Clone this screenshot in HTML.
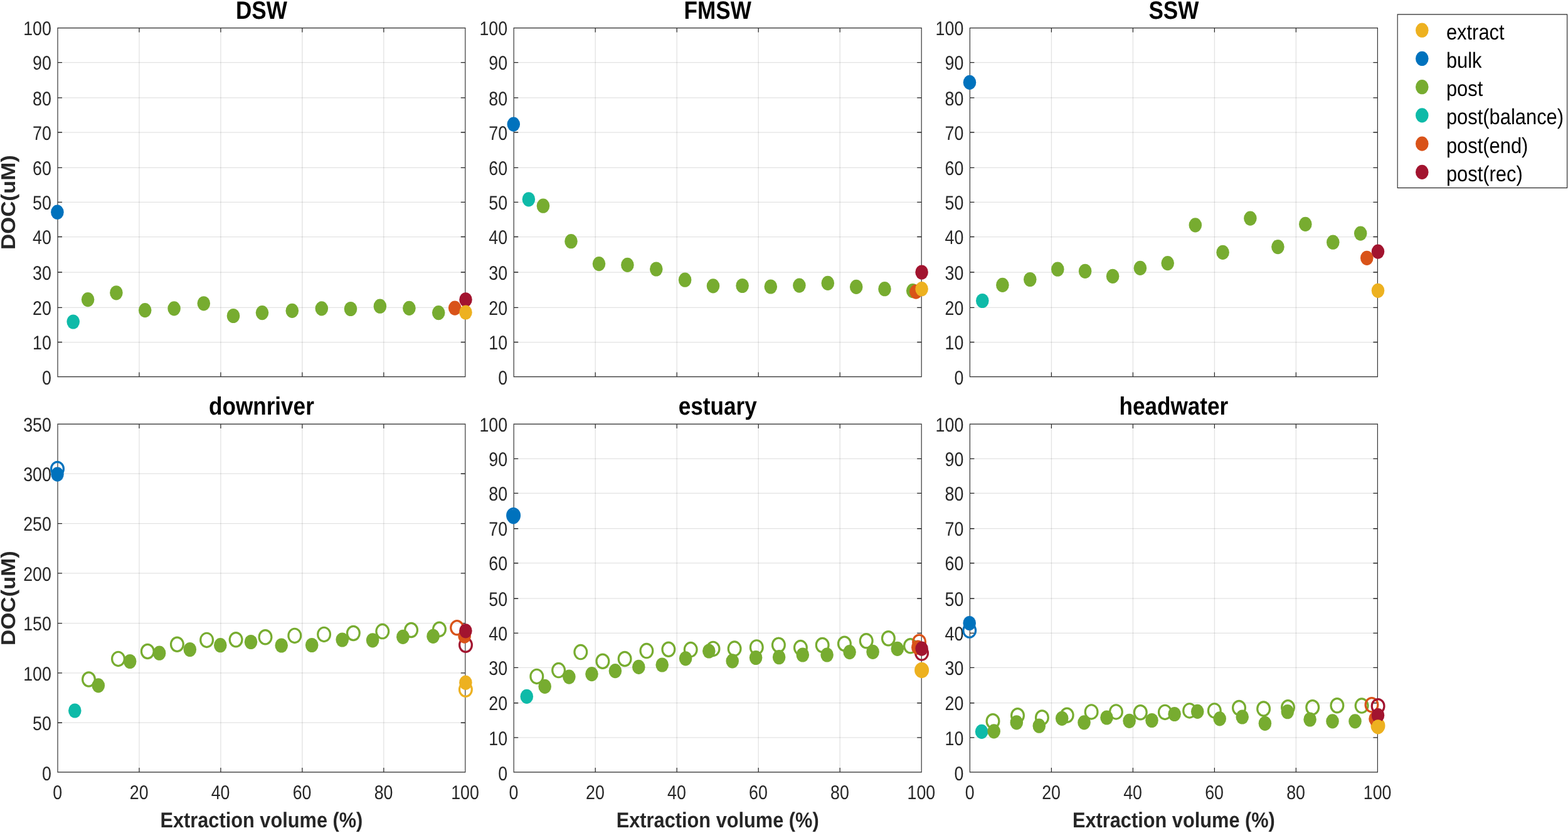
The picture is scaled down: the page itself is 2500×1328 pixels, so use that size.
<!DOCTYPE html><html><head><meta charset="utf-8"><title>DOC vs extraction volume</title>
<style>html,body{margin:0;padding:0;background:#fff;overflow:hidden}svg{display:block}text{font-family:"Liberation Sans",Arial,Helvetica,sans-serif;text-rendering:geometricPrecision}</style></head><body>
<svg width="2500" height="1328" viewBox="0 0 2818.49 1328" preserveAspectRatio="none">
<rect x="0" y="0" width="2818.49" height="1328" fill="#fff"/>
<g><path d="M250.24 44.6V600.6M396.75 44.6V600.6M543.27 44.6V600.6M689.79 44.6V600.6" stroke="#262626" stroke-opacity="0.13" stroke-width="1.5" fill="none"/><path d="M103.72 545.5H836.3M103.72 490.3H836.3M103.72 434H836.3M103.72 377.5H836.3M103.72 322.35H836.3M103.72 267.3H836.3M103.72 211H836.3M103.72 155.8H836.3M103.72 99.6H836.3" stroke="#262626" stroke-opacity="0.13" stroke-width="1.25" fill="none"/><path d="M250.24 600.6v-7.0M250.24 44.6v7.0M396.75 600.6v-7.0M396.75 44.6v7.0M543.27 600.6v-7.0M543.27 44.6v7.0M689.79 600.6v-7.0M689.79 44.6v7.0M103.72 545.5h7.89M836.3 545.5h-7.89M103.72 490.3h7.89M836.3 490.3h-7.89M103.72 434h7.89M836.3 434h-7.89M103.72 377.5h7.89M836.3 377.5h-7.89M103.72 322.35h7.89M836.3 322.35h-7.89M103.72 267.3h7.89M836.3 267.3h-7.89M103.72 211h7.89M836.3 211h-7.89M103.72 155.8h7.89M836.3 155.8h-7.89M103.72 99.6h7.89M836.3 99.6h-7.89" stroke="#262626" stroke-width="1.35" fill="none"/><rect x="103.72" y="44.6" width="732.58" height="556" stroke="#363636" stroke-width="1.35" fill="none"/><text transform="translate(92.33 613.49) scale(0.962 1)" font-size="31.4" fill="#262626" text-anchor="end">0</text><text transform="translate(92.33 557.29) scale(0.962 1)" font-size="31.4" fill="#262626" text-anchor="end">10</text><text transform="translate(92.33 502.09) scale(0.962 1)" font-size="31.4" fill="#262626" text-anchor="end">20</text><text transform="translate(92.33 445.79) scale(0.962 1)" font-size="31.4" fill="#262626" text-anchor="end">30</text><text transform="translate(92.33 389.29) scale(0.962 1)" font-size="31.4" fill="#262626" text-anchor="end">40</text><text transform="translate(92.33 334.14) scale(0.962 1)" font-size="31.4" fill="#262626" text-anchor="end">50</text><text transform="translate(92.33 279.09) scale(0.962 1)" font-size="31.4" fill="#262626" text-anchor="end">60</text><text transform="translate(92.33 222.79) scale(0.962 1)" font-size="31.4" fill="#262626" text-anchor="end">70</text><text transform="translate(92.33 167.59) scale(0.962 1)" font-size="31.4" fill="#262626" text-anchor="end">80</text><text transform="translate(92.33 111.39) scale(0.962 1)" font-size="31.4" fill="#262626" text-anchor="end">90</text><text transform="translate(92.33 56.39) scale(0.962 1)" font-size="31.4" fill="#262626" text-anchor="end">100</text><text transform="translate(470.01 29.6) scale(0.99 1)" font-size="40" font-weight="bold" fill="#000" text-anchor="middle">DSW</text><text transform="translate(26.83 322.6) scale(1.03 1) rotate(-90)" font-size="34.85" font-weight="bold" fill="#262626" text-anchor="middle">DOC(uM)</text><ellipse cx="103.04" cy="338.2" rx="11.6" ry="11.6" fill="#0072BD"/><ellipse cx="131.57" cy="513" rx="11.6" ry="11.6" fill="#0EBAA8"/><ellipse cx="157.95" cy="477.6" rx="11.6" ry="11.6" fill="#77AC30"/><ellipse cx="209.02" cy="466.8" rx="11.6" ry="11.6" fill="#77AC30"/><ellipse cx="260.65" cy="494.6" rx="11.6" ry="11.6" fill="#77AC30"/><ellipse cx="312.97" cy="491.9" rx="11.6" ry="11.6" fill="#77AC30"/><ellipse cx="366.18" cy="483.8" rx="11.6" ry="11.6" fill="#77AC30"/><ellipse cx="419.39" cy="503.5" rx="11.6" ry="11.6" fill="#77AC30"/><ellipse cx="471.25" cy="498.6" rx="11.6" ry="11.6" fill="#77AC30"/><ellipse cx="525.14" cy="495.4" rx="11.6" ry="11.6" fill="#77AC30"/><ellipse cx="578.13" cy="491.9" rx="11.6" ry="11.6" fill="#77AC30"/><ellipse cx="630.21" cy="492.5" rx="11.6" ry="11.6" fill="#77AC30"/><ellipse cx="683.09" cy="488.2" rx="11.6" ry="11.6" fill="#77AC30"/><ellipse cx="735.51" cy="491.4" rx="11.6" ry="11.6" fill="#77AC30"/><ellipse cx="788.28" cy="498.6" rx="11.6" ry="11.6" fill="#77AC30"/><ellipse cx="817.59" cy="491.1" rx="11.6" ry="11.6" fill="#D95319"/><ellipse cx="837.09" cy="477.8" rx="11.6" ry="11.6" fill="#A2142F"/><ellipse cx="837.09" cy="498" rx="11.6" ry="11.6" fill="#EDB120"/></g>
<g><path d="M1070.12 44.6V600.6M1216.69 44.6V600.6M1363.25 44.6V600.6M1509.81 44.6V600.6" stroke="#262626" stroke-opacity="0.13" stroke-width="1.5" fill="none"/><path d="M923.56 545.5H1656.37M923.56 490.3H1656.37M923.56 434H1656.37M923.56 377.5H1656.37M923.56 322.35H1656.37M923.56 267.3H1656.37M923.56 211H1656.37M923.56 155.8H1656.37M923.56 99.6H1656.37" stroke="#262626" stroke-opacity="0.13" stroke-width="1.25" fill="none"/><path d="M1070.12 600.6v-7.0M1070.12 44.6v7.0M1216.69 600.6v-7.0M1216.69 44.6v7.0M1363.25 600.6v-7.0M1363.25 44.6v7.0M1509.81 600.6v-7.0M1509.81 44.6v7.0M923.56 545.5h7.89M1656.37 545.5h-7.89M923.56 490.3h7.89M1656.37 490.3h-7.89M923.56 434h7.89M1656.37 434h-7.89M923.56 377.5h7.89M1656.37 377.5h-7.89M923.56 322.35h7.89M1656.37 322.35h-7.89M923.56 267.3h7.89M1656.37 267.3h-7.89M923.56 211h7.89M1656.37 211h-7.89M923.56 155.8h7.89M1656.37 155.8h-7.89M923.56 99.6h7.89M1656.37 99.6h-7.89" stroke="#262626" stroke-width="1.35" fill="none"/><rect x="923.56" y="44.6" width="732.81" height="556" stroke="#363636" stroke-width="1.35" fill="none"/><text transform="translate(912.18 613.49) scale(0.962 1)" font-size="31.4" fill="#262626" text-anchor="end">0</text><text transform="translate(912.18 557.29) scale(0.962 1)" font-size="31.4" fill="#262626" text-anchor="end">10</text><text transform="translate(912.18 502.09) scale(0.962 1)" font-size="31.4" fill="#262626" text-anchor="end">20</text><text transform="translate(912.18 445.79) scale(0.962 1)" font-size="31.4" fill="#262626" text-anchor="end">30</text><text transform="translate(912.18 389.29) scale(0.962 1)" font-size="31.4" fill="#262626" text-anchor="end">40</text><text transform="translate(912.18 334.14) scale(0.962 1)" font-size="31.4" fill="#262626" text-anchor="end">50</text><text transform="translate(912.18 279.09) scale(0.962 1)" font-size="31.4" fill="#262626" text-anchor="end">60</text><text transform="translate(912.18 222.79) scale(0.962 1)" font-size="31.4" fill="#262626" text-anchor="end">70</text><text transform="translate(912.18 167.59) scale(0.962 1)" font-size="31.4" fill="#262626" text-anchor="end">80</text><text transform="translate(912.18 111.39) scale(0.962 1)" font-size="31.4" fill="#262626" text-anchor="end">90</text><text transform="translate(912.18 56.39) scale(0.962 1)" font-size="31.4" fill="#262626" text-anchor="end">100</text><text transform="translate(1289.97 29.6) scale(0.99 1)" font-size="40" font-weight="bold" fill="#000" text-anchor="middle">FMSW</text><ellipse cx="923.11" cy="198.1" rx="11.6" ry="11.6" fill="#0072BD"/><ellipse cx="950.28" cy="317.8" rx="11.6" ry="11.6" fill="#0EBAA8"/><ellipse cx="976.32" cy="328.2" rx="11.6" ry="11.6" fill="#77AC30"/><ellipse cx="1026.49" cy="384.7" rx="11.6" ry="11.6" fill="#77AC30"/><ellipse cx="1076.66" cy="420.6" rx="11.6" ry="11.6" fill="#77AC30"/><ellipse cx="1127.85" cy="422.4" rx="11.6" ry="11.6" fill="#77AC30"/><ellipse cx="1179.59" cy="429" rx="11.6" ry="11.6" fill="#77AC30"/><ellipse cx="1231.23" cy="446.2" rx="11.6" ry="11.6" fill="#77AC30"/><ellipse cx="1281.85" cy="455.9" rx="11.6" ry="11.6" fill="#77AC30"/><ellipse cx="1334.39" cy="455.5" rx="11.6" ry="11.6" fill="#77AC30"/><ellipse cx="1385.34" cy="457" rx="11.6" ry="11.6" fill="#77AC30"/><ellipse cx="1436.75" cy="455.1" rx="11.6" ry="11.6" fill="#77AC30"/><ellipse cx="1487.94" cy="451.4" rx="11.6" ry="11.6" fill="#77AC30"/><ellipse cx="1539.12" cy="457.4" rx="11.6" ry="11.6" fill="#77AC30"/><ellipse cx="1590.19" cy="460.7" rx="11.6" ry="11.6" fill="#77AC30"/><ellipse cx="1640.59" cy="463.6" rx="11.6" ry="11.6" fill="#77AC30"/><ellipse cx="1646.45" cy="465.1" rx="11.6" ry="11.6" fill="#D95319"/><ellipse cx="1656.82" cy="434" rx="11.6" ry="11.6" fill="#A2142F"/><ellipse cx="1656.82" cy="460.7" rx="11.6" ry="11.6" fill="#EDB120"/></g>
<g><path d="M1889.97 44.6V600.6M2036.53 44.6V600.6M2183.09 44.6V600.6M2329.65 44.6V600.6" stroke="#262626" stroke-opacity="0.13" stroke-width="1.5" fill="none"/><path d="M1743.4 545.5H2476.21M1743.4 490.3H2476.21M1743.4 434H2476.21M1743.4 377.5H2476.21M1743.4 322.35H2476.21M1743.4 267.3H2476.21M1743.4 211H2476.21M1743.4 155.8H2476.21M1743.4 99.6H2476.21" stroke="#262626" stroke-opacity="0.13" stroke-width="1.25" fill="none"/><path d="M1889.97 600.6v-7.0M1889.97 44.6v7.0M2036.53 600.6v-7.0M2036.53 44.6v7.0M2183.09 600.6v-7.0M2183.09 44.6v7.0M2329.65 600.6v-7.0M2329.65 44.6v7.0M1743.4 545.5h7.89M2476.21 545.5h-7.89M1743.4 490.3h7.89M2476.21 490.3h-7.89M1743.4 434h7.89M2476.21 434h-7.89M1743.4 377.5h7.89M2476.21 377.5h-7.89M1743.4 322.35h7.89M2476.21 322.35h-7.89M1743.4 267.3h7.89M2476.21 267.3h-7.89M1743.4 211h7.89M2476.21 211h-7.89M1743.4 155.8h7.89M2476.21 155.8h-7.89M1743.4 99.6h7.89M2476.21 99.6h-7.89" stroke="#262626" stroke-width="1.35" fill="none"/><rect x="1743.4" y="44.6" width="732.81" height="556" stroke="#363636" stroke-width="1.35" fill="none"/><text transform="translate(1732.02 613.49) scale(0.962 1)" font-size="31.4" fill="#262626" text-anchor="end">0</text><text transform="translate(1732.02 557.29) scale(0.962 1)" font-size="31.4" fill="#262626" text-anchor="end">10</text><text transform="translate(1732.02 502.09) scale(0.962 1)" font-size="31.4" fill="#262626" text-anchor="end">20</text><text transform="translate(1732.02 445.79) scale(0.962 1)" font-size="31.4" fill="#262626" text-anchor="end">30</text><text transform="translate(1732.02 389.29) scale(0.962 1)" font-size="31.4" fill="#262626" text-anchor="end">40</text><text transform="translate(1732.02 334.14) scale(0.962 1)" font-size="31.4" fill="#262626" text-anchor="end">50</text><text transform="translate(1732.02 279.09) scale(0.962 1)" font-size="31.4" fill="#262626" text-anchor="end">60</text><text transform="translate(1732.02 222.79) scale(0.962 1)" font-size="31.4" fill="#262626" text-anchor="end">70</text><text transform="translate(1732.02 167.59) scale(0.962 1)" font-size="31.4" fill="#262626" text-anchor="end">80</text><text transform="translate(1732.02 111.39) scale(0.962 1)" font-size="31.4" fill="#262626" text-anchor="end">90</text><text transform="translate(1732.02 56.39) scale(0.962 1)" font-size="31.4" fill="#262626" text-anchor="end">100</text><text transform="translate(2109.81 29.6) scale(0.99 1)" font-size="40" font-weight="bold" fill="#000" text-anchor="middle">SSW</text><ellipse cx="1742.95" cy="131.4" rx="11.6" ry="11.6" fill="#0072BD"/><ellipse cx="1765.84" cy="479.5" rx="11.6" ry="11.6" fill="#0EBAA8"/><ellipse cx="1802.03" cy="454.4" rx="11.6" ry="11.6" fill="#77AC30"/><ellipse cx="1851.52" cy="445.5" rx="11.6" ry="11.6" fill="#77AC30"/><ellipse cx="1901.13" cy="429.2" rx="11.6" ry="11.6" fill="#77AC30"/><ellipse cx="1950.51" cy="432.3" rx="11.6" ry="11.6" fill="#77AC30"/><ellipse cx="2000.11" cy="440.4" rx="11.6" ry="11.6" fill="#77AC30"/><ellipse cx="2049.49" cy="427.4" rx="11.6" ry="11.6" fill="#77AC30"/><ellipse cx="2098.87" cy="419.6" rx="11.6" ry="11.6" fill="#77AC30"/><ellipse cx="2148.59" cy="358.9" rx="11.6" ry="11.6" fill="#77AC30"/><ellipse cx="2197.97" cy="402.4" rx="11.6" ry="11.6" fill="#77AC30"/><ellipse cx="2247.35" cy="348.1" rx="11.6" ry="11.6" fill="#77AC30"/><ellipse cx="2296.96" cy="393.6" rx="11.6" ry="11.6" fill="#77AC30"/><ellipse cx="2346.45" cy="357.4" rx="11.6" ry="11.6" fill="#77AC30"/><ellipse cx="2396.05" cy="386.2" rx="11.6" ry="11.6" fill="#77AC30"/><ellipse cx="2445.55" cy="372.1" rx="11.6" ry="11.6" fill="#77AC30"/><ellipse cx="2456.93" cy="411.3" rx="11.6" ry="11.6" fill="#D95319"/><ellipse cx="2476.89" cy="401.1" rx="11.6" ry="11.6" fill="#A2142F"/><ellipse cx="2476.89" cy="463.3" rx="11.6" ry="11.6" fill="#EDB120"/></g>
<g><path d="M250.24 676.1V1231M396.75 676.1V1231M543.27 676.1V1231M689.79 676.1V1231" stroke="#262626" stroke-opacity="0.13" stroke-width="1.5" fill="none"/><path d="M103.72 1152.2H836.3M103.72 1072.8H836.3M103.72 993.6H836.3M103.72 913.9H836.3M103.72 834.6H836.3M103.72 755.2H836.3" stroke="#262626" stroke-opacity="0.13" stroke-width="1.25" fill="none"/><path d="M250.24 1231v-7.0M250.24 676.1v7.0M396.75 1231v-7.0M396.75 676.1v7.0M543.27 1231v-7.0M543.27 676.1v7.0M689.79 1231v-7.0M689.79 676.1v7.0M103.72 1152.2h7.89M836.3 1152.2h-7.89M103.72 1072.8h7.89M836.3 1072.8h-7.89M103.72 993.6h7.89M836.3 993.6h-7.89M103.72 913.9h7.89M836.3 913.9h-7.89M103.72 834.6h7.89M836.3 834.6h-7.89M103.72 755.2h7.89M836.3 755.2h-7.89" stroke="#262626" stroke-width="1.35" fill="none"/><rect x="103.72" y="676.1" width="732.58" height="554.9" stroke="#363636" stroke-width="1.35" fill="none"/><text transform="translate(92.33 1243.99) scale(0.962 1)" font-size="31.4" fill="#262626" text-anchor="end">0</text><text transform="translate(92.33 1163.99) scale(0.962 1)" font-size="31.4" fill="#262626" text-anchor="end">50</text><text transform="translate(92.33 1084.59) scale(0.962 1)" font-size="31.4" fill="#262626" text-anchor="end">100</text><text transform="translate(92.33 1005.39) scale(0.962 1)" font-size="31.4" fill="#262626" text-anchor="end">150</text><text transform="translate(92.33 925.69) scale(0.962 1)" font-size="31.4" fill="#262626" text-anchor="end">200</text><text transform="translate(92.33 846.39) scale(0.962 1)" font-size="31.4" fill="#262626" text-anchor="end">250</text><text transform="translate(92.33 766.99) scale(0.962 1)" font-size="31.4" fill="#262626" text-anchor="end">300</text><text transform="translate(92.33 687.89) scale(0.962 1)" font-size="31.4" fill="#262626" text-anchor="end">350</text><text transform="translate(103.38 1273.9) scale(0.962 1)" font-size="31.4" fill="#262626" text-anchor="middle">0</text><text transform="translate(249.9 1273.9) scale(0.962 1)" font-size="31.4" fill="#262626" text-anchor="middle">20</text><text transform="translate(396.41 1273.9) scale(0.962 1)" font-size="31.4" fill="#262626" text-anchor="middle">40</text><text transform="translate(542.93 1273.9) scale(0.962 1)" font-size="31.4" fill="#262626" text-anchor="middle">60</text><text transform="translate(689.45 1273.9) scale(0.962 1)" font-size="31.4" fill="#262626" text-anchor="middle">80</text><text transform="translate(835.96 1273.9) scale(0.962 1)" font-size="31.4" fill="#262626" text-anchor="middle">100</text><text transform="translate(470.01 1319.2) scale(1.014 1)" font-size="34.2" font-weight="bold" fill="#262626" text-anchor="middle">Extraction volume (%)</text><text transform="translate(470.01 661.3) scale(0.99 1)" font-size="40" font-weight="bold" fill="#000" text-anchor="middle">downriver</text><text transform="translate(26.83 953.55) scale(1.03 1) rotate(-90)" font-size="34.85" font-weight="bold" fill="#262626" text-anchor="middle">DOC(uM)</text><ellipse cx="103.16" cy="747.5" rx="11.15" ry="11.15" fill="none" stroke="#0072BD" stroke-width="3.2" vector-effect="non-scaling-stroke"/><ellipse cx="159.53" cy="1083" rx="11.15" ry="11.15" fill="none" stroke="#77AC30" stroke-width="3.2" vector-effect="non-scaling-stroke"/><ellipse cx="212.51" cy="1050.4" rx="11.15" ry="11.15" fill="none" stroke="#77AC30" stroke-width="3.2" vector-effect="non-scaling-stroke"/><ellipse cx="265.28" cy="1038.5" rx="11.15" ry="11.15" fill="none" stroke="#77AC30" stroke-width="3.2" vector-effect="non-scaling-stroke"/><ellipse cx="318.38" cy="1027.2" rx="11.15" ry="11.15" fill="none" stroke="#77AC30" stroke-width="3.2" vector-effect="non-scaling-stroke"/><ellipse cx="371.59" cy="1020.4" rx="11.15" ry="11.15" fill="none" stroke="#77AC30" stroke-width="3.2" vector-effect="non-scaling-stroke"/><ellipse cx="424.01" cy="1019.8" rx="11.15" ry="11.15" fill="none" stroke="#77AC30" stroke-width="3.2" vector-effect="non-scaling-stroke"/><ellipse cx="476.89" cy="1015.7" rx="11.15" ry="11.15" fill="none" stroke="#77AC30" stroke-width="3.2" vector-effect="non-scaling-stroke"/><ellipse cx="529.65" cy="1013.4" rx="11.15" ry="11.15" fill="none" stroke="#77AC30" stroke-width="3.2" vector-effect="non-scaling-stroke"/><ellipse cx="582.41" cy="1011.4" rx="11.15" ry="11.15" fill="none" stroke="#77AC30" stroke-width="3.2" vector-effect="non-scaling-stroke"/><ellipse cx="635.17" cy="1009.5" rx="11.15" ry="11.15" fill="none" stroke="#77AC30" stroke-width="3.2" vector-effect="non-scaling-stroke"/><ellipse cx="687.49" cy="1006.6" rx="11.15" ry="11.15" fill="none" stroke="#77AC30" stroke-width="3.2" vector-effect="non-scaling-stroke"/><ellipse cx="739.12" cy="1004.5" rx="11.15" ry="11.15" fill="none" stroke="#77AC30" stroke-width="3.2" vector-effect="non-scaling-stroke"/><ellipse cx="789.74" cy="1003.3" rx="11.15" ry="11.15" fill="none" stroke="#77AC30" stroke-width="3.2" vector-effect="non-scaling-stroke"/><ellipse cx="821.42" cy="1000.7" rx="11.15" ry="11.15" fill="none" stroke="#D95319" stroke-width="3.2" vector-effect="non-scaling-stroke"/><ellipse cx="837.09" cy="1028.2" rx="11.15" ry="11.15" fill="none" stroke="#A2142F" stroke-width="3.2" vector-effect="non-scaling-stroke"/><ellipse cx="836.98" cy="1099.2" rx="11.15" ry="11.15" fill="none" stroke="#EDB120" stroke-width="3.2" vector-effect="non-scaling-stroke"/><ellipse cx="103.16" cy="756.1" rx="11.6" ry="11.6" fill="#0072BD"/><ellipse cx="134.5" cy="1133" rx="11.6" ry="11.6" fill="#0EBAA8"/><ellipse cx="176.78" cy="1092.9" rx="11.6" ry="11.6" fill="#77AC30"/><ellipse cx="233.6" cy="1054.5" rx="11.6" ry="11.6" fill="#77AC30"/><ellipse cx="286.47" cy="1041.2" rx="11.6" ry="11.6" fill="#77AC30"/><ellipse cx="341.38" cy="1035.5" rx="11.6" ry="11.6" fill="#77AC30"/><ellipse cx="396.05" cy="1028.7" rx="11.6" ry="11.6" fill="#77AC30"/><ellipse cx="450.96" cy="1023.5" rx="11.6" ry="11.6" fill="#77AC30"/><ellipse cx="505.86" cy="1029" rx="11.6" ry="11.6" fill="#77AC30"/><ellipse cx="560.54" cy="1028.5" rx="11.6" ry="11.6" fill="#77AC30"/><ellipse cx="615.22" cy="1020" rx="11.6" ry="11.6" fill="#77AC30"/><ellipse cx="669.79" cy="1020.8" rx="11.6" ry="11.6" fill="#77AC30"/><ellipse cx="724.24" cy="1015.3" rx="11.6" ry="11.6" fill="#77AC30"/><ellipse cx="778.58" cy="1014.3" rx="11.6" ry="11.6" fill="#77AC30"/><ellipse cx="834.95" cy="1014.1" rx="11.6" ry="11.6" fill="#D95319"/><ellipse cx="836.98" cy="1005.8" rx="11.6" ry="11.6" fill="#A2142F"/><ellipse cx="836.98" cy="1088.3" rx="11.6" ry="11.6" fill="#EDB120"/></g>
<g><path d="M1070.12 676.1V1231M1216.69 676.1V1231M1363.25 676.1V1231M1509.81 676.1V1231" stroke="#262626" stroke-opacity="0.13" stroke-width="1.5" fill="none"/><path d="M923.56 1175.8H1656.37M923.56 1120.7H1656.37M923.56 1064.3H1656.37M923.56 1009.3H1656.37M923.56 954.2H1656.37M923.56 897.7H1656.37M923.56 842.7H1656.37M923.56 786.3H1656.37M923.56 731.3H1656.37" stroke="#262626" stroke-opacity="0.13" stroke-width="1.25" fill="none"/><path d="M1070.12 1231v-7.0M1070.12 676.1v7.0M1216.69 1231v-7.0M1216.69 676.1v7.0M1363.25 1231v-7.0M1363.25 676.1v7.0M1509.81 1231v-7.0M1509.81 676.1v7.0M923.56 1175.8h7.89M1656.37 1175.8h-7.89M923.56 1120.7h7.89M1656.37 1120.7h-7.89M923.56 1064.3h7.89M1656.37 1064.3h-7.89M923.56 1009.3h7.89M1656.37 1009.3h-7.89M923.56 954.2h7.89M1656.37 954.2h-7.89M923.56 897.7h7.89M1656.37 897.7h-7.89M923.56 842.7h7.89M1656.37 842.7h-7.89M923.56 786.3h7.89M1656.37 786.3h-7.89M923.56 731.3h7.89M1656.37 731.3h-7.89" stroke="#262626" stroke-width="1.35" fill="none"/><rect x="923.56" y="676.1" width="732.81" height="554.9" stroke="#363636" stroke-width="1.35" fill="none"/><text transform="translate(912.18 1243.99) scale(0.962 1)" font-size="31.4" fill="#262626" text-anchor="end">0</text><text transform="translate(912.18 1187.59) scale(0.962 1)" font-size="31.4" fill="#262626" text-anchor="end">10</text><text transform="translate(912.18 1132.49) scale(0.962 1)" font-size="31.4" fill="#262626" text-anchor="end">20</text><text transform="translate(912.18 1076.09) scale(0.962 1)" font-size="31.4" fill="#262626" text-anchor="end">30</text><text transform="translate(912.18 1021.09) scale(0.962 1)" font-size="31.4" fill="#262626" text-anchor="end">40</text><text transform="translate(912.18 965.99) scale(0.962 1)" font-size="31.4" fill="#262626" text-anchor="end">50</text><text transform="translate(912.18 909.49) scale(0.962 1)" font-size="31.4" fill="#262626" text-anchor="end">60</text><text transform="translate(912.18 854.49) scale(0.962 1)" font-size="31.4" fill="#262626" text-anchor="end">70</text><text transform="translate(912.18 798.09) scale(0.962 1)" font-size="31.4" fill="#262626" text-anchor="end">80</text><text transform="translate(912.18 743.09) scale(0.962 1)" font-size="31.4" fill="#262626" text-anchor="end">90</text><text transform="translate(912.18 687.89) scale(0.962 1)" font-size="31.4" fill="#262626" text-anchor="end">100</text><text transform="translate(923.22 1273.9) scale(0.962 1)" font-size="31.4" fill="#262626" text-anchor="middle">0</text><text transform="translate(1069.79 1273.9) scale(0.962 1)" font-size="31.4" fill="#262626" text-anchor="middle">20</text><text transform="translate(1216.35 1273.9) scale(0.962 1)" font-size="31.4" fill="#262626" text-anchor="middle">40</text><text transform="translate(1362.91 1273.9) scale(0.962 1)" font-size="31.4" fill="#262626" text-anchor="middle">60</text><text transform="translate(1509.47 1273.9) scale(0.962 1)" font-size="31.4" fill="#262626" text-anchor="middle">80</text><text transform="translate(1656.03 1273.9) scale(0.962 1)" font-size="31.4" fill="#262626" text-anchor="middle">100</text><text transform="translate(1289.97 1319.2) scale(1.014 1)" font-size="34.2" font-weight="bold" fill="#262626" text-anchor="middle">Extraction volume (%)</text><text transform="translate(1289.97 661.3) scale(0.99 1)" font-size="40" font-weight="bold" fill="#000" text-anchor="middle">estuary</text><ellipse cx="922.89" cy="821.8" rx="11.15" ry="11.15" fill="none" stroke="#0072BD" stroke-width="3.2" vector-effect="non-scaling-stroke"/><ellipse cx="964.83" cy="1078.4" rx="11.15" ry="11.15" fill="none" stroke="#77AC30" stroke-width="3.2" vector-effect="non-scaling-stroke"/><ellipse cx="1004.06" cy="1068.6" rx="11.15" ry="11.15" fill="none" stroke="#77AC30" stroke-width="3.2" vector-effect="non-scaling-stroke"/><ellipse cx="1043.74" cy="1039.6" rx="11.15" ry="11.15" fill="none" stroke="#77AC30" stroke-width="3.2" vector-effect="non-scaling-stroke"/><ellipse cx="1083.31" cy="1054.3" rx="11.15" ry="11.15" fill="none" stroke="#77AC30" stroke-width="3.2" vector-effect="non-scaling-stroke"/><ellipse cx="1123" cy="1050.5" rx="11.15" ry="11.15" fill="none" stroke="#77AC30" stroke-width="3.2" vector-effect="non-scaling-stroke"/><ellipse cx="1162.23" cy="1037.6" rx="11.15" ry="11.15" fill="none" stroke="#77AC30" stroke-width="3.2" vector-effect="non-scaling-stroke"/><ellipse cx="1201.69" cy="1035.2" rx="11.15" ry="11.15" fill="none" stroke="#77AC30" stroke-width="3.2" vector-effect="non-scaling-stroke"/><ellipse cx="1241.49" cy="1035.6" rx="11.15" ry="11.15" fill="none" stroke="#77AC30" stroke-width="3.2" vector-effect="non-scaling-stroke"/><ellipse cx="1281.85" cy="1034.4" rx="11.15" ry="11.15" fill="none" stroke="#77AC30" stroke-width="3.2" vector-effect="non-scaling-stroke"/><ellipse cx="1320.29" cy="1034.1" rx="11.15" ry="11.15" fill="none" stroke="#77AC30" stroke-width="3.2" vector-effect="non-scaling-stroke"/><ellipse cx="1359.98" cy="1031.9" rx="11.15" ry="11.15" fill="none" stroke="#77AC30" stroke-width="3.2" vector-effect="non-scaling-stroke"/><ellipse cx="1399.55" cy="1028.2" rx="11.15" ry="11.15" fill="none" stroke="#77AC30" stroke-width="3.2" vector-effect="non-scaling-stroke"/><ellipse cx="1439.01" cy="1032.6" rx="11.15" ry="11.15" fill="none" stroke="#77AC30" stroke-width="3.2" vector-effect="non-scaling-stroke"/><ellipse cx="1478.24" cy="1028.5" rx="11.15" ry="11.15" fill="none" stroke="#77AC30" stroke-width="3.2" vector-effect="non-scaling-stroke"/><ellipse cx="1517.93" cy="1026.3" rx="11.15" ry="11.15" fill="none" stroke="#77AC30" stroke-width="3.2" vector-effect="non-scaling-stroke"/><ellipse cx="1557.16" cy="1021.8" rx="11.15" ry="11.15" fill="none" stroke="#77AC30" stroke-width="3.2" vector-effect="non-scaling-stroke"/><ellipse cx="1596.84" cy="1017.8" rx="11.15" ry="11.15" fill="none" stroke="#77AC30" stroke-width="3.2" vector-effect="non-scaling-stroke"/><ellipse cx="1636.41" cy="1029.7" rx="11.15" ry="11.15" fill="none" stroke="#77AC30" stroke-width="3.2" vector-effect="non-scaling-stroke"/><ellipse cx="1652.31" cy="1023.3" rx="11.15" ry="11.15" fill="none" stroke="#D95319" stroke-width="3.2" vector-effect="non-scaling-stroke"/><ellipse cx="1656.82" cy="1041.1" rx="11.15" ry="11.15" fill="none" stroke="#A2142F" stroke-width="3.2" vector-effect="non-scaling-stroke"/><ellipse cx="1656.82" cy="1068.4" rx="11.15" ry="11.15" fill="none" stroke="#EDB120" stroke-width="3.2" vector-effect="non-scaling-stroke"/><ellipse cx="922.89" cy="823.8" rx="11.6" ry="11.6" fill="#0072BD"/><ellipse cx="946.79" cy="1110.4" rx="11.6" ry="11.6" fill="#0EBAA8"/><ellipse cx="979.37" cy="1094.4" rx="11.6" ry="11.6" fill="#77AC30"/><ellipse cx="1023" cy="1079.1" rx="11.6" ry="11.6" fill="#77AC30"/><ellipse cx="1063.7" cy="1074.6" rx="11.6" ry="11.6" fill="#77AC30"/><ellipse cx="1105.86" cy="1069.6" rx="11.6" ry="11.6" fill="#77AC30"/><ellipse cx="1148.03" cy="1063.4" rx="11.6" ry="11.6" fill="#77AC30"/><ellipse cx="1190.19" cy="1060" rx="11.6" ry="11.6" fill="#77AC30"/><ellipse cx="1232.36" cy="1049.8" rx="11.6" ry="11.6" fill="#77AC30"/><ellipse cx="1274.3" cy="1038" rx="11.6" ry="11.6" fill="#77AC30"/><ellipse cx="1316.46" cy="1053.9" rx="11.6" ry="11.6" fill="#77AC30"/><ellipse cx="1358.62" cy="1048.5" rx="11.6" ry="11.6" fill="#77AC30"/><ellipse cx="1400.34" cy="1047.7" rx="11.6" ry="11.6" fill="#77AC30"/><ellipse cx="1442.84" cy="1044" rx="11.6" ry="11.6" fill="#77AC30"/><ellipse cx="1486.58" cy="1044" rx="11.6" ry="11.6" fill="#77AC30"/><ellipse cx="1527.17" cy="1039.6" rx="11.6" ry="11.6" fill="#77AC30"/><ellipse cx="1568.88" cy="1039.3" rx="11.6" ry="11.6" fill="#77AC30"/><ellipse cx="1613.08" cy="1034.4" rx="11.6" ry="11.6" fill="#77AC30"/><ellipse cx="1649.72" cy="1032.2" rx="11.6" ry="11.6" fill="#D95319"/><ellipse cx="1656.82" cy="1034.1" rx="11.6" ry="11.6" fill="#A2142F"/><ellipse cx="1656.82" cy="1068.4" rx="11.6" ry="11.6" fill="#EDB120"/></g>
<g><path d="M1889.97 676.1V1231M2036.53 676.1V1231M2183.09 676.1V1231M2329.65 676.1V1231" stroke="#262626" stroke-opacity="0.13" stroke-width="1.5" fill="none"/><path d="M1743.4 1175.8H2476.21M1743.4 1120.7H2476.21M1743.4 1064.3H2476.21M1743.4 1009.3H2476.21M1743.4 954.2H2476.21M1743.4 897.7H2476.21M1743.4 842.7H2476.21M1743.4 786.3H2476.21M1743.4 731.3H2476.21" stroke="#262626" stroke-opacity="0.13" stroke-width="1.25" fill="none"/><path d="M1889.97 1231v-7.0M1889.97 676.1v7.0M2036.53 1231v-7.0M2036.53 676.1v7.0M2183.09 1231v-7.0M2183.09 676.1v7.0M2329.65 1231v-7.0M2329.65 676.1v7.0M1743.4 1175.8h7.89M2476.21 1175.8h-7.89M1743.4 1120.7h7.89M2476.21 1120.7h-7.89M1743.4 1064.3h7.89M2476.21 1064.3h-7.89M1743.4 1009.3h7.89M2476.21 1009.3h-7.89M1743.4 954.2h7.89M2476.21 954.2h-7.89M1743.4 897.7h7.89M2476.21 897.7h-7.89M1743.4 842.7h7.89M2476.21 842.7h-7.89M1743.4 786.3h7.89M2476.21 786.3h-7.89M1743.4 731.3h7.89M2476.21 731.3h-7.89" stroke="#262626" stroke-width="1.35" fill="none"/><rect x="1743.4" y="676.1" width="732.81" height="554.9" stroke="#363636" stroke-width="1.35" fill="none"/><text transform="translate(1732.02 1243.99) scale(0.962 1)" font-size="31.4" fill="#262626" text-anchor="end">0</text><text transform="translate(1732.02 1187.59) scale(0.962 1)" font-size="31.4" fill="#262626" text-anchor="end">10</text><text transform="translate(1732.02 1132.49) scale(0.962 1)" font-size="31.4" fill="#262626" text-anchor="end">20</text><text transform="translate(1732.02 1076.09) scale(0.962 1)" font-size="31.4" fill="#262626" text-anchor="end">30</text><text transform="translate(1732.02 1021.09) scale(0.962 1)" font-size="31.4" fill="#262626" text-anchor="end">40</text><text transform="translate(1732.02 965.99) scale(0.962 1)" font-size="31.4" fill="#262626" text-anchor="end">50</text><text transform="translate(1732.02 909.49) scale(0.962 1)" font-size="31.4" fill="#262626" text-anchor="end">60</text><text transform="translate(1732.02 854.49) scale(0.962 1)" font-size="31.4" fill="#262626" text-anchor="end">70</text><text transform="translate(1732.02 798.09) scale(0.962 1)" font-size="31.4" fill="#262626" text-anchor="end">80</text><text transform="translate(1732.02 743.09) scale(0.962 1)" font-size="31.4" fill="#262626" text-anchor="end">90</text><text transform="translate(1732.02 687.89) scale(0.962 1)" font-size="31.4" fill="#262626" text-anchor="end">100</text><text transform="translate(1743.07 1273.9) scale(0.962 1)" font-size="31.4" fill="#262626" text-anchor="middle">0</text><text transform="translate(1889.63 1273.9) scale(0.962 1)" font-size="31.4" fill="#262626" text-anchor="middle">20</text><text transform="translate(2036.19 1273.9) scale(0.962 1)" font-size="31.4" fill="#262626" text-anchor="middle">40</text><text transform="translate(2182.75 1273.9) scale(0.962 1)" font-size="31.4" fill="#262626" text-anchor="middle">60</text><text transform="translate(2329.31 1273.9) scale(0.962 1)" font-size="31.4" fill="#262626" text-anchor="middle">80</text><text transform="translate(2475.87 1273.9) scale(0.962 1)" font-size="31.4" fill="#262626" text-anchor="middle">100</text><text transform="translate(2109.81 1319.2) scale(1.014 1)" font-size="34.2" font-weight="bold" fill="#262626" text-anchor="middle">Extraction volume (%)</text><text transform="translate(2109.81 661.3) scale(0.99 1)" font-size="40" font-weight="bold" fill="#000" text-anchor="middle">headwater</text><ellipse cx="1742.62" cy="1005.1" rx="11.15" ry="11.15" fill="none" stroke="#0072BD" stroke-width="3.2" vector-effect="non-scaling-stroke"/><ellipse cx="1784.67" cy="1149.8" rx="11.15" ry="11.15" fill="none" stroke="#77AC30" stroke-width="3.2" vector-effect="non-scaling-stroke"/><ellipse cx="1829.2" cy="1140.7" rx="11.15" ry="11.15" fill="none" stroke="#77AC30" stroke-width="3.2" vector-effect="non-scaling-stroke"/><ellipse cx="1873.06" cy="1144" rx="11.15" ry="11.15" fill="none" stroke="#77AC30" stroke-width="3.2" vector-effect="non-scaling-stroke"/><ellipse cx="1917.93" cy="1140.3" rx="11.15" ry="11.15" fill="none" stroke="#77AC30" stroke-width="3.2" vector-effect="non-scaling-stroke"/><ellipse cx="1961.78" cy="1134.9" rx="11.15" ry="11.15" fill="none" stroke="#77AC30" stroke-width="3.2" vector-effect="non-scaling-stroke"/><ellipse cx="2006.09" cy="1134.9" rx="11.15" ry="11.15" fill="none" stroke="#77AC30" stroke-width="3.2" vector-effect="non-scaling-stroke"/><ellipse cx="2049.94" cy="1135.7" rx="11.15" ry="11.15" fill="none" stroke="#77AC30" stroke-width="3.2" vector-effect="non-scaling-stroke"/><ellipse cx="2094.02" cy="1135.4" rx="11.15" ry="11.15" fill="none" stroke="#77AC30" stroke-width="3.2" vector-effect="non-scaling-stroke"/><ellipse cx="2138.22" cy="1132.9" rx="11.15" ry="11.15" fill="none" stroke="#77AC30" stroke-width="3.2" vector-effect="non-scaling-stroke"/><ellipse cx="2182.98" cy="1132.9" rx="11.15" ry="11.15" fill="none" stroke="#77AC30" stroke-width="3.2" vector-effect="non-scaling-stroke"/><ellipse cx="2227.17" cy="1128.5" rx="11.15" ry="11.15" fill="none" stroke="#77AC30" stroke-width="3.2" vector-effect="non-scaling-stroke"/><ellipse cx="2271.25" cy="1130" rx="11.15" ry="11.15" fill="none" stroke="#77AC30" stroke-width="3.2" vector-effect="non-scaling-stroke"/><ellipse cx="2315.11" cy="1127.7" rx="11.15" ry="11.15" fill="none" stroke="#77AC30" stroke-width="3.2" vector-effect="non-scaling-stroke"/><ellipse cx="2359.3" cy="1127.7" rx="11.15" ry="11.15" fill="none" stroke="#77AC30" stroke-width="3.2" vector-effect="non-scaling-stroke"/><ellipse cx="2403.49" cy="1124.8" rx="11.15" ry="11.15" fill="none" stroke="#77AC30" stroke-width="3.2" vector-effect="non-scaling-stroke"/><ellipse cx="2447.69" cy="1125.1" rx="11.15" ry="11.15" fill="none" stroke="#77AC30" stroke-width="3.2" vector-effect="non-scaling-stroke"/><ellipse cx="2465.61" cy="1123.8" rx="11.15" ry="11.15" fill="none" stroke="#D95319" stroke-width="3.2" vector-effect="non-scaling-stroke"/><ellipse cx="2477" cy="1125.8" rx="11.15" ry="11.15" fill="none" stroke="#A2142F" stroke-width="3.2" vector-effect="non-scaling-stroke"/><ellipse cx="2476.89" cy="1157" rx="11.15" ry="11.15" fill="none" stroke="#EDB120" stroke-width="3.2" vector-effect="non-scaling-stroke"/><ellipse cx="1742.62" cy="993.5" rx="11.6" ry="11.6" fill="#0072BD"/><ellipse cx="1764.49" cy="1166.4" rx="11.6" ry="11.6" fill="#0EBAA8"/><ellipse cx="1786.58" cy="1165.9" rx="11.6" ry="11.6" fill="#77AC30"/><ellipse cx="1827.28" cy="1151.9" rx="11.6" ry="11.6" fill="#77AC30"/><ellipse cx="1867.87" cy="1157.2" rx="11.6" ry="11.6" fill="#77AC30"/><ellipse cx="1908.91" cy="1145.3" rx="11.6" ry="11.6" fill="#77AC30"/><ellipse cx="1948.7" cy="1151.9" rx="11.6" ry="11.6" fill="#77AC30"/><ellipse cx="1989.29" cy="1144" rx="11.6" ry="11.6" fill="#77AC30"/><ellipse cx="2029.99" cy="1149.3" rx="11.6" ry="11.6" fill="#77AC30"/><ellipse cx="2070.46" cy="1148.5" rx="11.6" ry="11.6" fill="#77AC30"/><ellipse cx="2111.16" cy="1138.5" rx="11.6" ry="11.6" fill="#77AC30"/><ellipse cx="2152.42" cy="1134.4" rx="11.6" ry="11.6" fill="#77AC30"/><ellipse cx="2192.45" cy="1145.9" rx="11.6" ry="11.6" fill="#77AC30"/><ellipse cx="2233.03" cy="1143" rx="11.6" ry="11.6" fill="#77AC30"/><ellipse cx="2273.84" cy="1153.3" rx="11.6" ry="11.6" fill="#77AC30"/><ellipse cx="2314.32" cy="1134.7" rx="11.6" ry="11.6" fill="#77AC30"/><ellipse cx="2354.68" cy="1147" rx="11.6" ry="11.6" fill="#77AC30"/><ellipse cx="2395.15" cy="1149.9" rx="11.6" ry="11.6" fill="#77AC30"/><ellipse cx="2435.74" cy="1149.9" rx="11.6" ry="11.6" fill="#77AC30"/><ellipse cx="2471.82" cy="1146" rx="11.6" ry="11.6" fill="#D95319"/><ellipse cx="2476.89" cy="1140.5" rx="11.6" ry="11.6" fill="#A2142F"/><ellipse cx="2476.89" cy="1158.8" rx="11.6" ry="11.6" fill="#EDB120"/></g>
<rect x="2512.06" y="23" width="304.85" height="276.5" fill="#fff" stroke="#262626" stroke-width="1.25"/>
<ellipse cx="2556.14" cy="48.2" rx="11.6" ry="11.6" fill="#EDB120"/>
<text transform="translate(2599.66 62.6) scale(0.995 1)" font-size="35" fill="#000">extract</text>
<ellipse cx="2556.14" cy="93.44" rx="11.6" ry="11.6" fill="#0072BD"/>
<text transform="translate(2599.66 107.84) scale(0.995 1)" font-size="35" fill="#000">bulk</text>
<ellipse cx="2556.14" cy="138.68" rx="11.6" ry="11.6" fill="#77AC30"/>
<text transform="translate(2599.66 153.08) scale(0.995 1)" font-size="35" fill="#000">post</text>
<ellipse cx="2556.14" cy="183.92" rx="11.6" ry="11.6" fill="#0EBAA8"/>
<text transform="translate(2599.66 198.32) scale(0.995 1)" font-size="35" fill="#000">post(balance)</text>
<ellipse cx="2556.14" cy="229.16" rx="11.6" ry="11.6" fill="#D95319"/>
<text transform="translate(2599.66 243.56) scale(0.995 1)" font-size="35" fill="#000">post(end)</text>
<ellipse cx="2556.14" cy="274.4" rx="11.6" ry="11.6" fill="#A2142F"/>
<text transform="translate(2599.66 288.8) scale(0.995 1)" font-size="35" fill="#000">post(rec)</text>
</svg></body></html>
